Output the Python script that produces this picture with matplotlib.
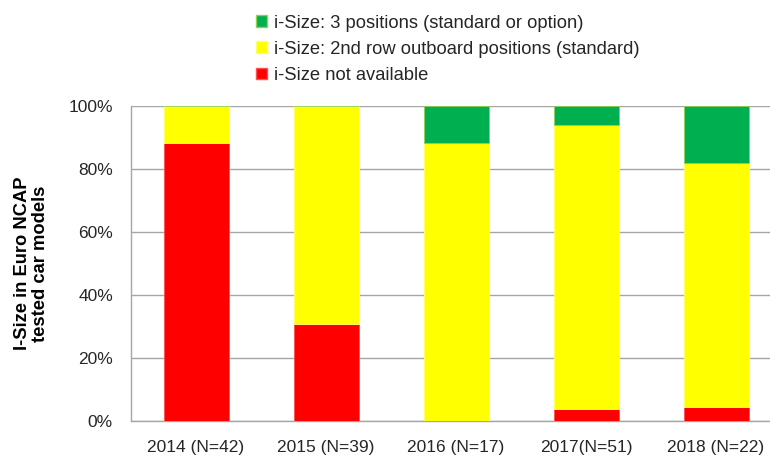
import numpy as np
import matplotlib.pyplot as plt
from matplotlib.patches import Patch

plt.rcParams['font.family'] = ['Liberation Sans', 'DejaVu Sans']

years = ["2014 (N=42)", "2015 (N=39)", "2016 (N=17)", "2017(N=51)", "2018 (N=22)"]
not_available = [88.1, 30.8, 0.0, 3.9, 4.5]
second_row = [11.9, 69.2, 88.2, 90.2, 77.3]
three_pos = [0.0, 0.0, 11.8, 5.9, 18.2]

labels = ["i-Size: 3 positions (standard or option)",
          "i-Size: 2nd row outboard positions (standard)",
          "i-Size not available"]
colors = ["#00B050", "#FFFF00", "#FF0000"]
edges = ["#92D050", "#FFFF66", "#FF5050"]

fig = plt.figure(figsize=(7.7, 4.57), dpi=100)
ax = fig.add_axes([131 / 770, 36 / 457, 650 / 770, 315 / 457])

x = np.arange(len(years))
w = 0.5
ax.bar(x, not_available, w, color=colors[2], edgecolor=edges[2], linewidth=0.6, zorder=3)
ax.bar(x, second_row, w, bottom=not_available, color=colors[1], edgecolor=edges[1],
       linewidth=0.6, zorder=3)
bottom2 = np.array(not_available) + np.array(second_row)
ax.bar(x, three_pos, w, bottom=bottom2, color=colors[0], edgecolor=edges[0], linewidth=0.6, zorder=3)

ax.set_xlim(-0.5, len(years) - 0.5)
ax.set_ylim(0, 100)
ax.set_yticks(np.arange(0, 101, 20))
ax.set_yticklabels([f"{v}%" for v in range(0, 101, 20)])
ax.set_xticks(x)
ax.set_xticklabels(years)
ax.tick_params(axis='both', length=0, labelsize=12.5, colors='#262626')
ax.tick_params(axis='x', pad=14)
ax.tick_params(axis='y', pad=13)
ax.grid(axis='y', color='#A6A6A6', linewidth=1, zorder=0)
for s in ['top', 'right']:
    ax.spines[s].set_visible(False)
for s in ['left', 'bottom']:
    ax.spines[s].set_color('#A6A6A6')
    ax.spines[s].set_linewidth(1)

ax.set_ylabel("I-Size in Euro NCAP\ntested car models", fontsize=13.2, fontweight='bold',
              labelpad=14, linespacing=1.1)

handles = [Patch(facecolor=c, edgecolor=e) for c, e in zip(colors, edges)]
fig.legend(handles, labels, loc='upper left', bbox_to_anchor=(239 / 770, 1 + 2 / 457),
           frameon=False, fontsize=13.2, handlelength=0.6, handleheight=0.6,
           handletextpad=0.4, labelspacing=0.5, labelcolor='#262626')

fig.savefig("out.png", dpi=100)
